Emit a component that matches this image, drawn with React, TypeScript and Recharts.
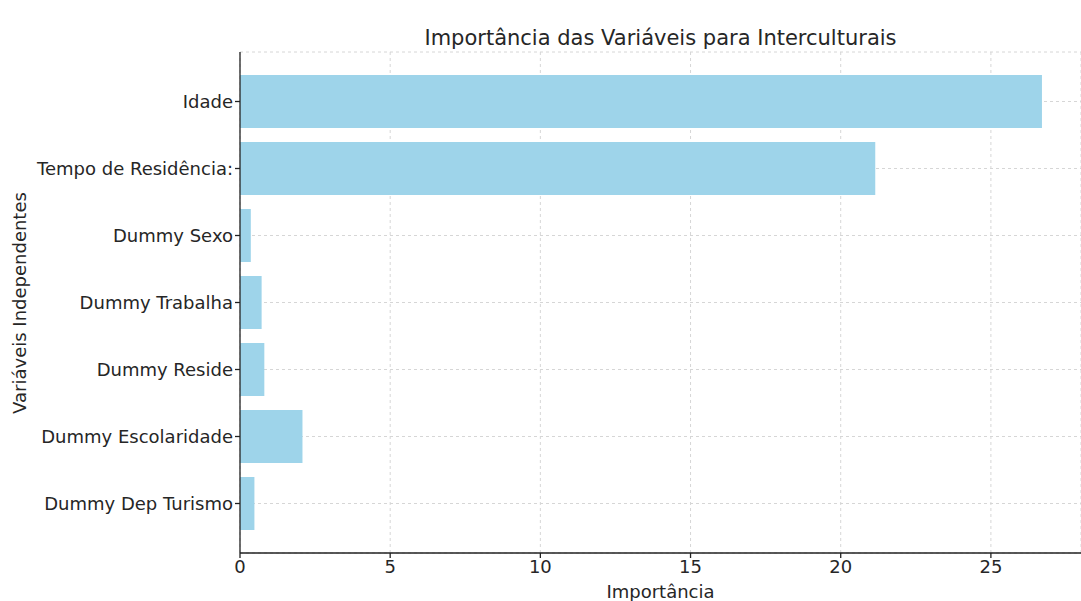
import React from 'react';
import { BarChart, Bar, XAxis, YAxis, CartesianGrid } from 'recharts';

// Variables, top to bottom as drawn
const variables = [
  'Idade',
  'Tempo de Residência:',
  'Dummy Sexo',
  'Dummy Trabalha',
  'Dummy Reside',
  'Dummy Escolaridade',
  'Dummy Dep Turismo',
];

const importance = [26.7, 21.15, 0.36, 0.72, 0.81, 2.08, 0.48];

const xTicks = [0, 5, 10, 15, 20, 25];

const data = variables.map((name, i) => ({ name, value: importance[i] }));

const font = '"DejaVu Sans", sans-serif';
const textColor = '#262626';

const App: React.FC = () => {
  return (
    <div style={{ position: 'absolute', left: 0, top: 0, width: 1081, height: 601, background: '#fff', fontFamily: font, overflow: 'hidden' }}>
      <div
        style={{
          position: 'absolute', left: 240, width: 841, top: 24, textAlign: 'center',
          fontSize: 21, color: textColor, lineHeight: '28px',
        }}
      >
        Importância das Variáveis para Interculturais
      </div>
      <div
        style={{
          position: 'absolute', left: 240, width: 841, top: 581, textAlign: 'center',
          fontSize: 18, color: textColor, lineHeight: '22px',
        }}
      >
        Importância
      </div>
      <div
        style={{
          position: 'absolute', left: 20, top: 303, width: 300, marginLeft: -150, marginTop: -11,
          textAlign: 'center', fontSize: 18, color: textColor, lineHeight: '22px',
          transform: 'rotate(-90deg)',
        }}
      >
        Variáveis Independentes
      </div>
      <BarChart
        width={1081}
        height={601}
        data={data}
        layout="vertical"
        margin={{ top: 52, right: 0, bottom: 18, left: 0 }}
        style={{ position: 'absolute', left: 0, top: 0 }}
      >
        <CartesianGrid strokeDasharray="3 3" stroke="#d6d6d6" />
        <XAxis
          type="number"
          domain={[0, 28]}
          ticks={xTicks}
          height={30}
          tickSize={5}
          tickMargin={2}
          stroke="#222"
          strokeWidth={1.3}
          tick={{ fill: textColor, fontSize: 18, fontFamily: font }}
          allowDataOverflow
        />
        <YAxis
          type="category"
          dataKey="name"
          width={240}
          tickSize={5}
          tickMargin={2}
          padding={{ top: 16, bottom: 16 }}
          stroke="#222"
          strokeWidth={1.3}
          interval={0}
          tick={{ fill: textColor, fontSize: 18, fontFamily: font }}
        />
        <Bar dataKey="value" fill="#9ED4EA" barSize={53} isAnimationActive={false} />
      </BarChart>
    </div>
  );
};

export default App;
